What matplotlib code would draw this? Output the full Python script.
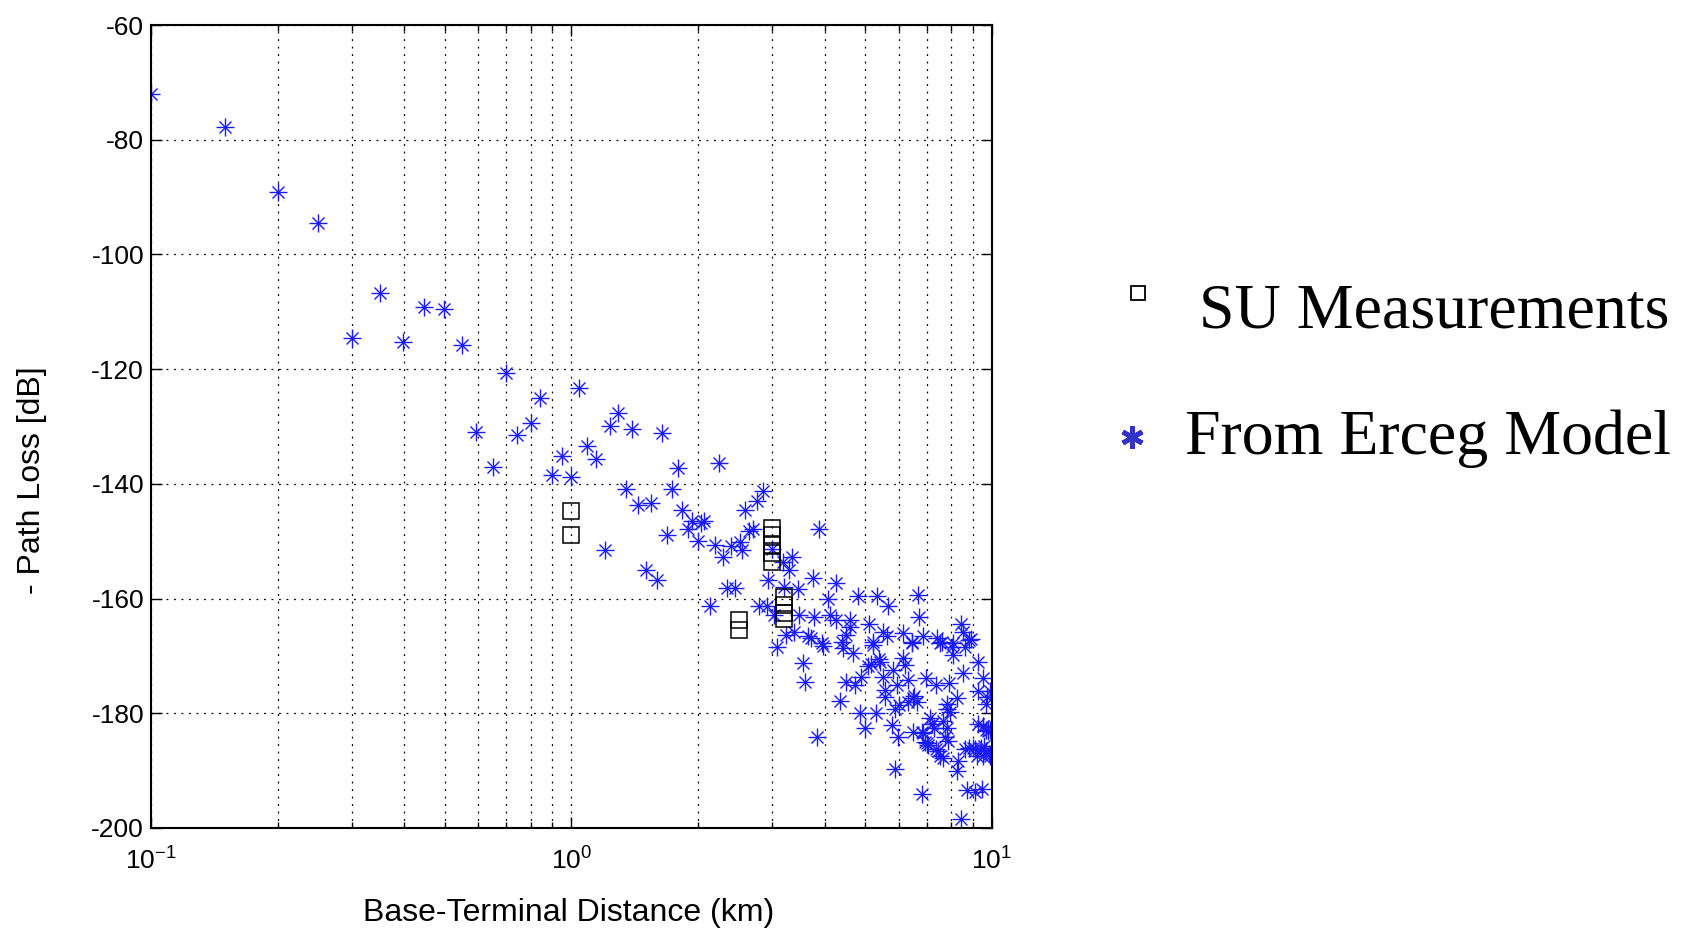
import numpy as np
import matplotlib.pyplot as plt
from matplotlib.lines import Line2D
from matplotlib.ticker import FuncFormatter, NullFormatter

plt.rcParams['font.family'] = ['Liberation Sans Narrow', 'Liberation Sans', 'DejaVu Sans']
plt.rcParams['axes.unicode_minus'] = False

# SU measurements (squares)
su_dist = [1.0, 1.0, 2.5, 2.5, 3.0, 3.0, 3.0, 3.0, 3.0, 3.2, 3.2, 3.2, 3.2]
su_loss = [-144.8, -148.9, -163.8, -165.5, -147.7, -149.0, -150.6, -152.1, -153.6,
           -159.8, -161.1, -162.5, -163.5]

# Erceg model points (asterisks)
erceg_dist = [
    0.1, 0.15, 0.2, 0.25, 0.35, 0.3, 0.446, 0.497, 0.398, 0.548, 0.594, 0.65, 0.697,
    0.84, 1.043, 0.8, 0.743, 1.088, 1.143, 0.948, 0.897, 1.0, 1.29, 1.237, 1.394, 1.644,
    1.795, 2.245, 1.199, 1.348, 1.44, 1.55, 1.50, 1.598, 1.737, 1.835, 1.93, 2.07, 2.03,
    1.89, 1.683, 2.0, 2.20, 2.13, 2.29, 2.40, 2.51, 2.55, 2.585, 2.755, 2.85, 2.65, 2.70,
    2.35, 2.45, 3.0, 2.94, 3.18, 3.34, 3.30, 3.45, 3.75, 3.88, 4.26, 3.2, 2.80, 2.92,
    3.04, 3.48, 3.78, 4.07, 4.11, 4.26, 4.59, 4.79, 5.33, 5.66, 5.09, 5.51, 5.63, 6.68,
    6.72, 6.13, 6.44, 6.87, 7.39, 7.6, 8.45, 8.55, 8.9, 8.1, 3.24, 3.38, 3.65, 3.71,
    3.94, 4.41, 4.5, 4.59, 5.22,
    3.55, 3.60, 3.09, 3.96, 4.50, 4.36, 3.83, 4.42,
    5.22, 6.44, 7.52, 8.02, 8.62, 9.25, 4.68, 5.42, 5.08, 6.15, 6.2, 5.82, 5.52, 6.32,
    6.97, 7.38, 7.91, 8.55, 9.53, 9.28, 9.71, 4.72, 5.57, 5.57, 5.94, 6.5, 6.62, 6.3,
    8.24, 7.8, 4.86, 5.30, 4.99, 5.88, 5.77, 5.98, 6.5, 6.8, 7.12, 7.2, 7.3, 6.93, 7.05,
    7.38, 7.52, 7.73, 7.8, 7.65, 7.87, 7.8, 7.95, 8.62, 8.8, 9.12, 9.4, 9.53, 9.7, 9.85,
    9.9, 9.7, 9.53, 9.28, 8.32, 8.24, 5.88, 6.8, 8.71, 9.1, 9.45, 8.44,
    5.16, 5.40, 4.87, 6.53, 6.0, 8.1, 8.8, 9.9, 9.7, 9.0, 9.6, 9.8, 9.2, 9.9, 7.45,
    7.64, 7.0, 9.5, 6.85,
]
erceg_loss = [
    -72.0, -77.7, -89.1, -94.5, -106.7, -114.5, -109.2, -109.5, -115.3, -115.8, -130.9,
    -137.0, -120.7,
    -125.0, -123.3, -129.4, -131.4, -133.4, -135.6, -135.2, -138.5, -138.8, -127.7, -130.0,
    -130.4, -131.1, -137.2, -136.4, -151.5, -140.9, -143.7, -143.4, -155.1, -156.8, -140.9,
    -144.6, -146.5, -146.4, -146.8, -147.9, -149.0, -149.9, -150.6, -161.3, -152.8, -150.8,
    -150.2, -151.5, -144.5, -143.0, -141.2, -148.2, -147.8, -158.1, -158.1, -151.3, -156.7,
    -153.6, -152.8, -155.1, -158.3, -156.4, -147.9, -157.2, -157.9, -161.3, -161.3, -162.9,
    -162.9, -163.2, -160.0, -162.9, -163.7, -163.7, -159.5, -159.5, -161.3, -164.5, -165.8,
    -166.5, -159.3, -163.3, -166.0, -167.5, -166.5, -166.8, -167.5, -164.5, -165.8, -167.0,
    -167.8, -166.3, -165.8, -166.5, -166.8, -167.8, -167.5, -166.3, -164.9, -167.5,
    -171.2, -174.5, -168.5, -168.3, -174.5, -177.8, -184.1, -168.6,
    -168.1, -167.8, -167.8, -168.4, -168.4, -171.0, -169.5, -171.0, -171.8, -170.4, -171.5,
    -172.4, -173.6, -174.2, -173.9, -175.1, -174.7, -173.0, -173.9, -176.2, -177.1, -175.1,
    -176.0, -177.1, -175.1, -177.4, -178.0, -178.0, -177.4, -178.3, -180.0, -180.0, -182.6,
    -179.2, -182.1, -184.1, -183.3, -183.3, -180.9, -181.8, -182.6, -185.0, -185.6, -186.3,
    -187.4, -184.1, -182.6, -181.3, -184.8, -179.2, -179.8, -186.3, -186.0, -186.2, -186.0,
    -187.4, -186.6, -187.1, -183.0, -183.0, -182.3, -181.8, -188.4, -190.1, -189.8, -194.0,
    -193.4, -193.7, -193.2, -198.4,
    -171.4, -170.5, -173.7, -177.0, -178.6, -169.9, -167.3, -176.1, -178.4, -186.0, -185.7,
    -183.1, -187.5, -187.5, -186.6, -187.8, -185.1, -182.2, -183.4,
]

y_ticks = list(range(-200, -59, 20))

fig = plt.figure(figsize=(16.93, 9.30), dpi=100)
ax = fig.add_axes([0.0892, 0.1097, 0.4967, 0.8634])

blue = '#1a1aff'
ax.plot(erceg_dist, erceg_loss, ls='none', marker='+', ms=13, mew=1.0, color=blue)
ax.plot(erceg_dist, erceg_loss, ls='none', marker='x', ms=8, mew=1.0, color=blue)
ax.plot(su_dist, su_loss, ls='none', marker='s', ms=11, mew=1.1, mfc='none', mec='k')

ax.set_xscale('log')
ax.set_xlim(0.1, 10)
ax.set_ylim(-200, -60)
ax.set_yticks(y_ticks)
ax.xaxis.set_major_formatter(FuncFormatter(lambda v, p: r'$\mathregular{10^{%d}}$' % round(np.log10(v))))
ax.xaxis.set_minor_formatter(NullFormatter())

grid_style = dict(color='k', ls=(0, (1.5, 4.5)), lw=0.9)
ax.grid(True, which='both', axis='x', **grid_style)
ax.grid(True, which='major', axis='y', **grid_style)

ax.tick_params(which='both', direction='in', top=True, right=True, width=1.0)
ax.tick_params(which='major', length=8, labelsize=19)
ax.tick_params(which='minor', length=4)
ax.tick_params(axis='x', pad=14)
ax.tick_params(axis='y', pad=5)
for s in ax.spines.values():
    s.set_linewidth(1.5)

fig.text(569 / 1693, 1 - 913 / 930, 'Base-Terminal Distance (km)', fontsize=23,
         ha='center', va='center')
fig.text(32 / 1693, 1 - 480 / 930, '- Path Loss [dB]', fontsize=23, rotation=90,
         ha='center', va='center')

# legend drawn beside the axes
fig.add_artist(Line2D([0.6722], [0.6849], marker='s', ms=10, mew=1.3, mfc='none', mec='k',
                      transform=fig.transFigure))
fig.add_artist(Line2D([0.6686], [0.5301], marker=(6, 2, 0), ms=16, mew=3.5, color='#3333cc',
                      transform=fig.transFigure))
fig.text(1199 / 1693, 1 - 327 / 930, 'SU Measurements', fontsize=46,
         family='Liberation Serif', ha='left', va='baseline')
fig.text(1185 / 1693, 1 - 454 / 930, 'From Erceg Model', fontsize=46,
         family='Liberation Serif', ha='left', va='baseline')

fig.savefig('out.png', dpi=100)
